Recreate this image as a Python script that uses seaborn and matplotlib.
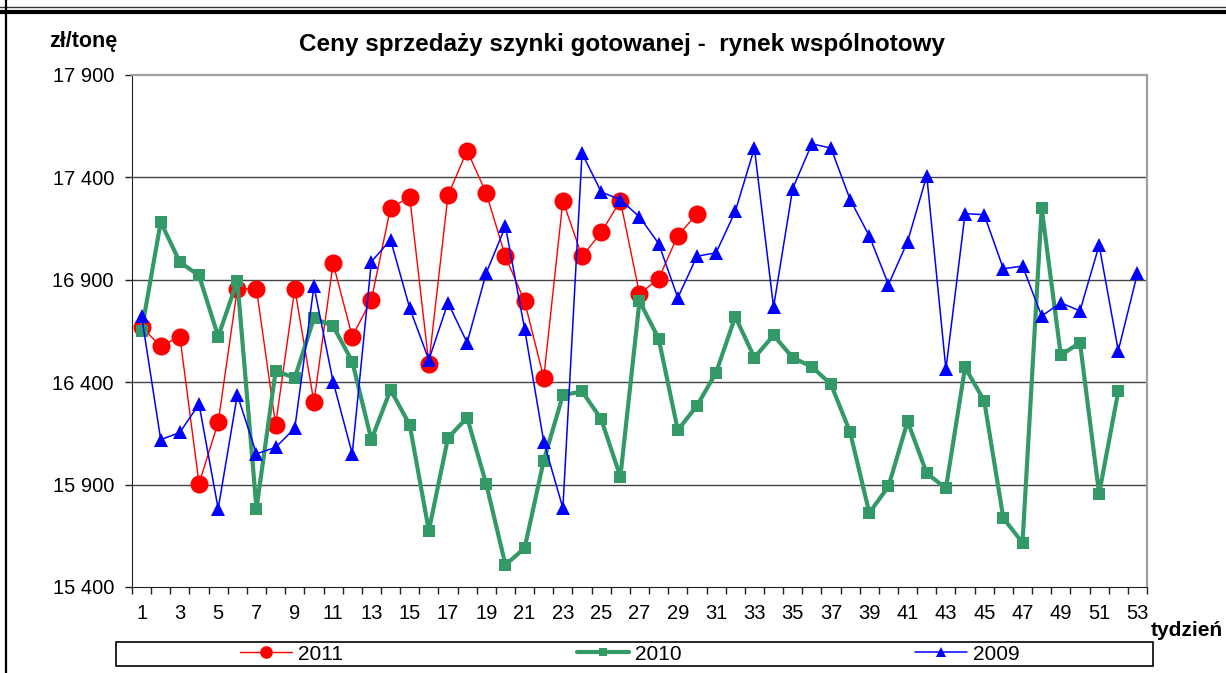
import numpy as np
import pandas as pd
import seaborn as sns
import matplotlib.pyplot as plt
from matplotlib.ticker import FixedLocator, FuncFormatter
from matplotlib.lines import Line2D
from matplotlib.patches import Rectangle

# weekly selling prices, zl/tonne
weeks = list(range(1, 54))
y2011 = [16670, 16575, 16623, 15905, 16204, 16856, 16856, 16192, 16856, 16303,
         16980, 16623, 16803, 17251, 17304, 16491, 17312, 17531, 17322, 17014,
         16795, 16421, 17286, 17014, 17131, 17286, 16832, 16905, 17116, 17221]
y2010 = [16650, 17182, 16986, 16921, 16623, 16895, 15783, 16455, 16421, 16712,
         16674, 16501, 16119, 16363, 16192, 15675, 16128, 16227, 15902, 15508,
         15590, 16017, 16337, 16355, 16220, 15938, 16796, 16613, 16166, 16285,
         16447, 16720, 16520, 16629, 16520, 16475, 16390, 16155, 15762, 15891,
         16209, 15955, 15882, 16472, 16309, 15736, 15616, 17249, 16532, 16593,
         15856, 16355]
y2009 = [16723, 16119, 16155, 16293, 15782, 16338, 16050, 16082, 16175, 16869,
         16403, 16050, 16988, 17096, 16762, 16509, 16788, 16593, 16934, 17161,
         16661, 16110, 15785, 17518, 17329, 17291, 17207, 17077, 16812, 17015,
         17032, 17234, 17543, 16767, 17345, 17564, 17543, 17291, 17114, 16877,
         17087, 17408, 16463, 17223, 17218, 16954, 16967, 16723, 16788, 16748,
         17069, 16554, 16931]
yticks = [15400, 15900, 16400, 16900, 17400, 17900]

sns.set_style("white")
plt.rcParams['font.family'] = ['Liberation Sans', 'DejaVu Sans']
plt.rcParams['text.color'] = 'black'
plt.rcParams['xtick.color'] = 'black'
plt.rcParams['ytick.color'] = 'black'

fig = plt.figure(figsize=(12.26, 6.73), dpi=100)
ax = fig.add_axes([132 / 1226, 1 - 587 / 673, (1147 - 132) / 1226, (587 - 75) / 673])

green = "#339966"
sns.lineplot(x=weeks[:len(y2011)], y=y2011, ax=ax, color="red", linewidth=1.0,
             marker="o", markersize=13, markeredgecolor="red", markeredgewidth=0,
             label="2011", zorder=3)
sns.lineplot(x=weeks[:len(y2010)], y=y2010, ax=ax, color=green, linewidth=3.0,
             marker="s", markersize=8.5, markeredgecolor=green, markeredgewidth=0,
             label="2010", zorder=4)
sns.lineplot(x=weeks, y=y2009, ax=ax, color="blue", linewidth=1.1,
             marker="^", markersize=9.5, markeredgecolor="blue", markeredgewidth=0,
             label="2009", zorder=5)

ax.set_xlim(0.5, 53.5)
ax.set_ylim(15400, 17900)
ax.set_xlabel("")
ax.set_ylabel("")

ax.yaxis.set_major_locator(FixedLocator(yticks))
ax.yaxis.set_major_formatter(FuncFormatter(lambda v, p: f"{v:,.0f}".replace(",", " ")))
ax.xaxis.set_major_locator(FixedLocator(list(range(1, 54, 2))))
ax.xaxis.set_minor_locator(FixedLocator(list(np.arange(0.5, 54, 1.0))))
ax.tick_params(axis="x", which="major", length=0, pad=12, labelsize=14.5)
ax.tick_params(axis="x", which="minor", length=5, width=1, direction="out",
               color="#222222", bottom=True)
ax.tick_params(axis="y", which="major", length=5, width=1, direction="out",
               color="#222222", pad=8, labelsize=14.5, left=True)

for v in yticks[1:-1]:
    ax.axhline(v, color="#444444", linewidth=1.0, zorder=1)

ax.spines["left"].set_color("#222222")
ax.spines["bottom"].set_color("#222222")
ax.spines["top"].set_color("#a0a0a0")
ax.spines["right"].set_color("#a0a0a0")
ax.spines["top"].set_linewidth(1.6)
ax.spines["right"].set_linewidth(1.6)

handles, labels = ax.get_legend_handles_labels()
ax.get_legend().remove()
fig.legend(handles, labels, loc="center", bbox_to_anchor=(630 / 1226, 1 - 654 / 673),
           ncol=3, frameon=False, fontsize=15, handlelength=2.5, handletextpad=0.3,
           columnspacing=11.2, markerscale=0.7, labelcolor="black")
fig.add_artist(Rectangle((116 / 1226, 1 - 666 / 673), (1153 - 116) / 1226, 24 / 673,
                         transform=fig.transFigure, fill=False, edgecolor="black",
                         linewidth=1.2))

fig.text(622 / 1226, 1 - 45 / 673, "Ceny sprzedaży szynki gotowanej -  rynek wspólnotowy",
         ha="center", va="center", fontsize=17.5, fontweight="bold")
fig.text(83 / 1226, 1 - 42 / 673, "zł/tonę", ha="center", va="center",
         fontsize=15.5, fontweight="bold")
fig.text(1187 / 1226, 1 - 631 / 673, "tydzień", ha="center", va="center",
         fontsize=15, fontweight="bold")

# outer frame lines
fig.add_artist(Line2D([0, 1], [1 - 7 / 673, 1 - 7 / 673], transform=fig.transFigure,
                      color="#333333", linewidth=1.0))
fig.add_artist(Line2D([0, 1], [1 - 11.5 / 673, 1 - 11.5 / 673], transform=fig.transFigure,
                      color="black", linewidth=3.0))
fig.add_artist(Line2D([6 / 1226, 6 / 1226], [0, 1], transform=fig.transFigure,
                      color="black", linewidth=1.6))

fig.savefig("out.png", dpi=100)
